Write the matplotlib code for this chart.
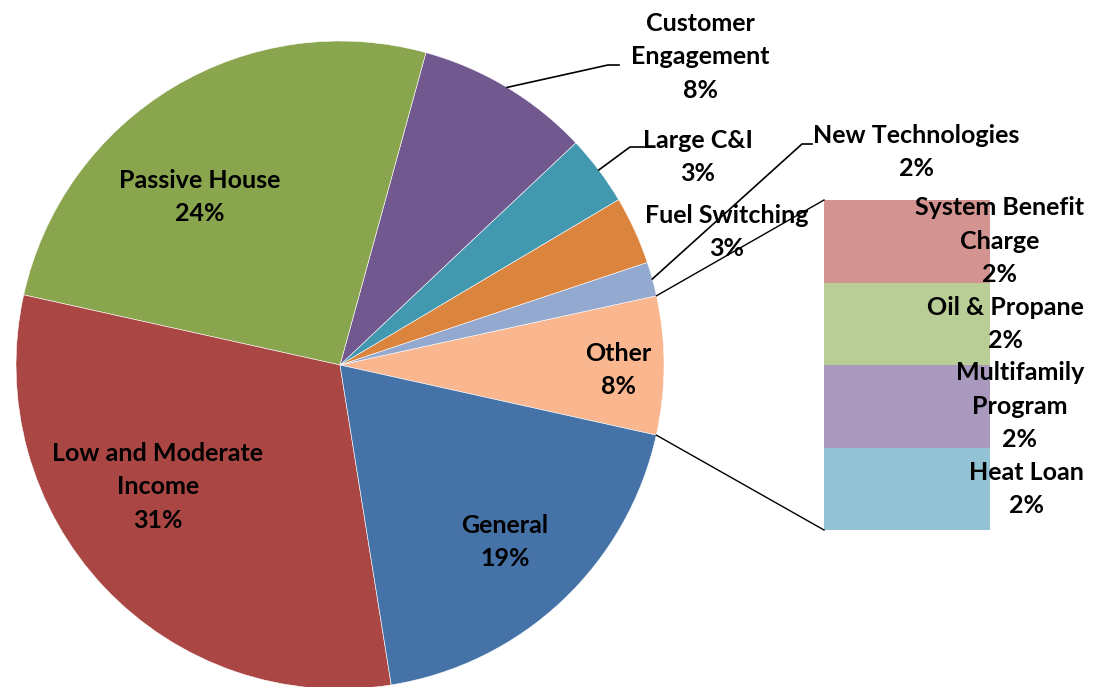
import numpy as np
import matplotlib
matplotlib.use("Agg")
import matplotlib.pyplot as plt

# pie slices, counter-clockwise starting from the "Other" slice
slices = ["Other", "New Technologies", "Fuel Switching", "Large C&I",
          "Customer Engagement", "Passive House", "Low and Moderate Income", "General"]
shares = [6.9, 1.7, 3.4, 3.5, 8.7, 25.8, 31.0, 19.0]
slice_labels = ["Other\n8%", "New Technologies\n2%", "Fuel Switching\n3%", "Large C&I\n3%",
                "Customer\nEngagement\n8%", "Passive House\n24%",
                "Low and Moderate\nIncome\n31%", "General\n19%"]
slice_colors = ["#f9b68f", "#93a9cf", "#db843d", "#4198af",
                "#71588f", "#89a54e", "#aa4643", "#4572a7"]

# breakdown of "Other", bottom to top
other_items = ["Heat Loan", "Multifamily Program", "Oil & Propane", "System Benefit Charge"]
other_values = [2, 2, 2, 2]
other_labels = ["Heat Loan\n2%", "Multifamily\nProgram\n2%", "Oil & Propane\n2%",
                "System Benefit\nCharge\n2%"]
other_colors = ["#92c2d3", "#a99abd", "#b9cd96", "#d39391"]

W, H = 1101, 687
plt.rcParams['font.family'] = ['Lato', 'DejaVu Sans']

fig = plt.figure(figsize=(W / 100, H / 100), dpi=100)
ax = fig.add_axes([0, 0, 1, 1])

cx, cy, r = 340, H - 365, 324
wedges, _ = ax.pie(shares, colors=slice_colors, startangle=-12.5, counterclock=True,
                   center=(cx, cy), radius=r,
                   wedgeprops=dict(edgecolor="white", linewidth=0.4))
ax.set_xlim(0, W)
ax.set_ylim(0, H)
ax.set_aspect("auto")
ax.axis("off")

fs = 18
txt = dict(fontsize=fs, fontweight="bold", color="black", linespacing=1.55)

# inside / outside labels (pixel positions, y from top)
label_pos = {
    "Other": (618, 370),
    "New Technologies": (916, 152),
    "Fuel Switching": (727, 232),
    "Large C&I": (698, 157),
    "Customer Engagement": (700, 57),
    "Passive House": (200, 197),
    "Low and Moderate Income": (158, 487),
    "General": (505, 542),
}
for name, lab in zip(slices, slice_labels):
    x, y = label_pos[name]
    ax.text(x, H - y, lab, ha="center", va="center", **txt)

# leader lines from the wedge edge
elbows = {
    "Customer Engagement": ((608, 65), (619, 65)),
    "Large C&I": ((630, 147), (645, 147)),
    "New Technologies": ((802, 144), (812, 144)),
}
for w, name in zip(wedges, slices):
    if name in elbows:
        mid = np.radians((w.theta1 + w.theta2) / 2)
        x0, y0 = cx + r * np.cos(mid), cy + r * np.sin(mid)
        (x1, y1), (x2, y2) = elbows[name]
        ax.plot([x0, x1, x2], [y0, H - y1, H - y2], color="black", lw=1.2)

# stacked bar for "Other"
bar_left, bar_right, bar_top, bar_bottom = 824, 990, 200, 530
scale = (bar_bottom - bar_top) / sum(other_values)
bottom = H - bar_bottom
label_x = 1084
for v, lab, c in zip(other_values, other_labels, other_colors):
    h = v * scale
    ax.bar((bar_left + bar_right) / 2, h, width=bar_right - bar_left, bottom=bottom,
           color=c, edgecolor="none")
    ax.text(label_x, bottom + h / 2, lab, ha="right", va="center",
            multialignment="center", **txt)
    bottom += h

# connector lines from the "Other" wedge to the bar
ow = wedges[0]
for ang, yb in [(ow.theta2, H - bar_top), (ow.theta1, H - bar_bottom)]:
    a = np.radians(ang)
    ax.plot([cx + r * np.cos(a), bar_left], [cy + r * np.sin(a), yb], color="black", lw=1.0)

fig.savefig("out.png", dpi=100, facecolor="white")
